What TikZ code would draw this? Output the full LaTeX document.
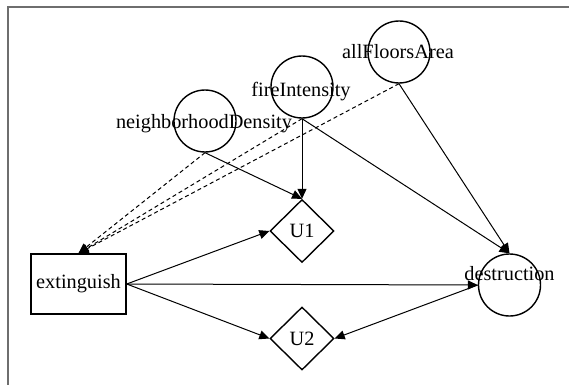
\documentclass[tikz,border=0pt]{standalone}
\usepackage{fontspec}
\setmainfont{Liberation Serif}
\usetikzlibrary{shapes.geometric,arrows.meta}
\definecolor{framegray}{RGB}{110,110,110}
\begin{document}
\begin{tikzpicture}[x=1pt,y=-1pt,
  every node/.style={font=\fontsize{20.3}{24}\selectfont},
  chance/.style={circle,draw,line width=1.4pt,minimum size=62pt,inner sep=0pt},
  util/.style={diamond,draw,line width=1.4pt,minimum width=64pt,minimum height=63pt,inner sep=0pt},
  decis/.style={rectangle,draw,line width=1.4pt,minimum width=95pt,minimum height=60pt,inner sep=0pt},
  lbl/.style={anchor=base,inner sep=0pt},
  linkarrow/.style={-{Triangle[length=10pt,width=9pt]},line width=1pt},
  infoarrow/.style={linkarrow,dash pattern=on 4pt off 3pt}]
\useasboundingbox (0,0) rectangle (569,385);
\fill[white] (0,0) rectangle (569,385);
\draw[framegray,line width=2pt] (569,7) -- (8,7) -- (8,385);
% chance nodes
\node[chance] (nd) at (205,121) {};
\node[chance] (fi) at (302,87) {};
\node[chance] (afa) at (399,52) {};
\node[chance] (dest) at (509.5,285) {};
\node[lbl] (ndt) at (204,128) {neighborhoodDensity};
\node[lbl] (fit) at (301,96) {fireIntensity};
\node[lbl] (afat) at (398,59) {allFloorsArea};
\node[lbl] (destt) at (509.5,280) {destruction};
% utility nodes
\node[util] (u1) at (302,231) {U1};
\node[util] (u2) at (302,338.5) {U2};
% decision node
\node[decis] (ext) at (78.5,284) {extinguish};
% informational arcs
\draw[infoarrow] (nd.south) -- (ext.north);
\draw[infoarrow] (fi.south) -- (ext.north);
\draw[infoarrow] (afa.south) -- (ext.north);
% other arcs
\draw[linkarrow] (nd.south) -- (u1.north);
\draw[linkarrow] (fi.south) -- (u1.north);
\draw[linkarrow] (fi.south) -- (dest.north);
\draw[linkarrow] (afa.south) -- (dest.north);
\draw[linkarrow] (ext.east) -- (u1.west);
\draw[linkarrow] (ext.east) -- (dest.west);
\draw[linkarrow] (ext.east) -- (u2.west);
\draw[linkarrow] (dest.west) -- (u2.east);
\end{tikzpicture}
\end{document}
